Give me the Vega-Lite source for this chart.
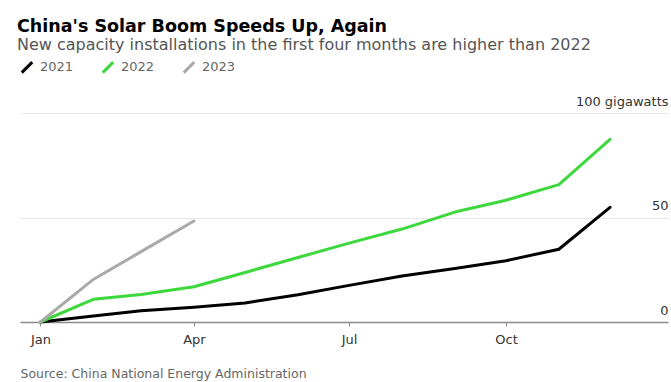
{
  "$schema": "https://vega.github.io/schema/vega-lite/v6.json",
  "width": 648,
  "height": 209,
  "autosize": {"type": "none"},
  "padding": {"left": 20, "top": 113, "right": 3, "bottom": 60},
  "background": "#ffffff",
  "title": {
    "text": "China's Solar Boom Speeds Up, Again",
    "subtitle": "New capacity installations in the first four months are higher than 2022",
    "anchor": "start",
    "frame": "group",
    "font": "DejaVu Sans",
    "fontSize": 17.5,
    "fontWeight": "bold",
    "color": "#000000",
    "subtitleFont": "DejaVu Sans",
    "subtitleFontSize": 16,
    "subtitleColor": "#555555",
    "subtitlePadding": 2,
    "dx": -3,
    "offset": 7
  },
  "config": {
    "view": {"stroke": null},
    "font": "DejaVu Sans"
  },
  "data": {
    "values": [
      {"date": "2021-01-01", "year": "2021", "gw": 0},
      {"date": "2021-02-01", "year": "2021", "gw": 2.9},
      {"date": "2021-03-01", "year": "2021", "gw": 5.33},
      {"date": "2021-04-01", "year": "2021", "gw": 7.08},
      {"date": "2021-05-01", "year": "2021", "gw": 9.13},
      {"date": "2021-06-01", "year": "2021", "gw": 13.01},
      {"date": "2021-07-01", "year": "2021", "gw": 17.52},
      {"date": "2021-08-01", "year": "2021", "gw": 22.01},
      {"date": "2021-09-01", "year": "2021", "gw": 25.56},
      {"date": "2021-10-01", "year": "2021", "gw": 29.31},
      {"date": "2021-11-01", "year": "2021", "gw": 34.82},
      {"date": "2021-12-01", "year": "2021", "gw": 54.88},
      {"date": "2021-01-01", "year": "2022", "gw": 0},
      {"date": "2021-02-01", "year": "2022", "gw": 10.86},
      {"date": "2021-03-01", "year": "2022", "gw": 13.21},
      {"date": "2021-04-01", "year": "2022", "gw": 16.88},
      {"date": "2021-05-01", "year": "2022", "gw": 23.71},
      {"date": "2021-06-01", "year": "2022", "gw": 30.88},
      {"date": "2021-07-01", "year": "2022", "gw": 37.73},
      {"date": "2021-08-01", "year": "2022", "gw": 44.47},
      {"date": "2021-09-01", "year": "2022", "gw": 52.6},
      {"date": "2021-10-01", "year": "2022", "gw": 58.24},
      {"date": "2021-11-01", "year": "2022", "gw": 65.71},
      {"date": "2021-12-01", "year": "2022", "gw": 87.41},
      {"date": "2021-01-01", "year": "2023", "gw": 0},
      {"date": "2021-02-01", "year": "2023", "gw": 20.37},
      {"date": "2021-03-01", "year": "2023", "gw": 33.66},
      {"date": "2021-04-01", "year": "2023", "gw": 48.31}
    ]
  },
  "mark": {"type": "line", "strokeWidth": 3, "strokeJoin": "round", "strokeCap": "round"},
  "encoding": {
    "x": {
      "field": "date",
      "type": "temporal",
      "scale": {
        "type": "utc",
        "domain": [
          {"year": 2020, "month": 12, "date": 20, "utc": true},
          {"year": 2022, "month": 1, "date": 4, "utc": true}
        ]
      },
      "axis": {
        "title": "Source: China National Energy Administration",
        "titleAnchor": "start",
        "titleAlign": "left",
        "titleFont": "DejaVu Sans",
        "titleFontSize": 12.5,
        "titleFontWeight": "normal",
        "titleColor": "#666666",
        "titlePadding": 21,
        "values": [
          {"year": 2021, "month": 1, "date": 1, "utc": true},
          {"year": 2021, "month": 4, "date": 1, "utc": true},
          {"year": 2021, "month": 7, "date": 1, "utc": true},
          {"year": 2021, "month": 10, "date": 1, "utc": true}
        ],
        "format": "%b",
        "grid": false,
        "domainColor": "#8c8c8c",
        "domainWidth": 1.5,
        "tickColor": "#8c8c8c",
        "tickSize": 4,
        "labelPadding": 7,
        "labelFont": "DejaVu Sans",
        "labelFontSize": 13,
        "labelColor": "#333333"
      }
    },
    "y": {
      "field": "gw",
      "type": "quantitative",
      "scale": {"domain": [0, 100], "nice": false},
      "axis": {
        "orient": "right",
        "title": null,
        "values": [0, 50, 100],
        "labelExpr": "datum.value == 100 ? '100 gigawatts' : datum.label",
        "domain": false,
        "ticks": false,
        "tickSize": 0,
        "labelPadding": 0,
        "labelAlign": "right",
        "labelBaseline": "bottom",
        "labelOffset": -5,
        "labelFont": "DejaVu Sans",
        "labelFontSize": 13,
        "labelColor": "#333333",
        "grid": true,
        "gridColor": "#e6e6e6",
        "gridWidth": 1
      }
    },
    "color": {
      "field": "year",
      "type": "nominal",
      "scale": {"domain": ["2021", "2022", "2023"], "range": ["#000000", "#3cd83c", "#aaaaaa"]},
      "legend": {
        "title": null,
        "orient": "none",
        "direction": "horizontal",
        "legendX": 0,
        "legendY": -53,
        "symbolType": "M-1,1L1,-1",
        "symbolSize": 110,
        "symbolStrokeWidth": 3,
        "labelFont": "DejaVu Sans",
        "labelFontSize": 13,
        "labelColor": "#666666",
        "columnPadding": 22,
        "labelOffset": 6
      }
    }
  }
}
